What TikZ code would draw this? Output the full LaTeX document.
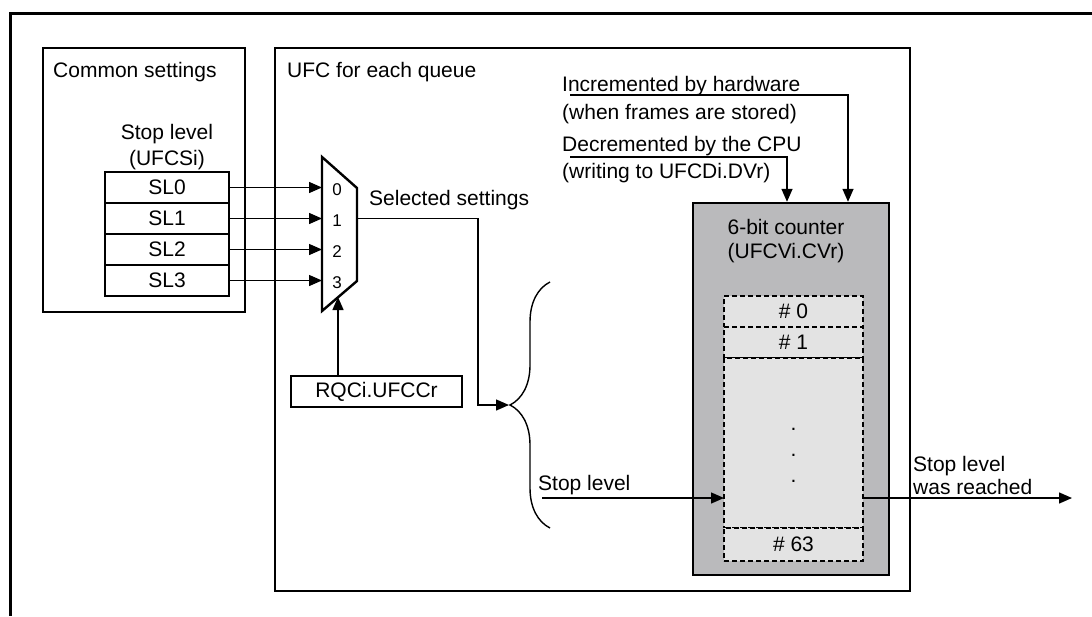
\documentclass[tikz,border=0pt]{standalone}
\usepackage{fontspec}
\setmainfont{Liberation Sans}
\usetikzlibrary{arrows.meta,positioning,decorations.pathreplacing}
\definecolor{ctrgray}{RGB}{186,186,188}
\definecolor{cellgray}{RGB}{227,227,227}
\tikzset{
  box/.style={draw,line width=2.4pt},
  reg/.style={box,minimum width=124pt,minimum height=31pt,inner sep=0pt},
  cell/.style={draw,dash pattern=on 5pt off 3pt,line width=2pt,fill=cellgray,
    minimum width=139pt,inner sep=0pt,outer sep=0pt},
  sig/.style={->,line width=1.4pt},
  lbl/.style={inner sep=0pt}
}
\begin{document}
\begin{tikzpicture}[x=1pt,y=-1pt,>={Triangle[length=13pt,width=11pt]},
  font=\fontsize{21}{26}\selectfont]

\useasboundingbox (0,0) rectangle (1092,616);

% Outer frame
\draw[line width=3pt] (1092,13) -- (10,13) -- (10,616);

%------------------------------------------------
% LEFT: Common settings
%------------------------------------------------
\draw[box] (43,48) rectangle (245,312);
\node[lbl,anchor=west] (common) at (53,72) {Common settings};

\node[lbl,align=center] (slhead) at (167,147) {Stop level\\(UFCSi)};
\foreach \i in {0,...,3}
  \node[reg] (sl\i) at (167,{187.5+31*\i}) {SL\i};

%------------------------------------------------
% RIGHT: UFC for each queue
%------------------------------------------------
\draw[box] (275,48) rectangle (910,591);
\node[lbl,anchor=west] (ufc) at (287,72) {UFC for each queue};

% Selector
\coordinate (mtl) at (322,157);
\coordinate (mtr) at (357,188);
\coordinate (mbr) at (357,281);
\coordinate (mbl) at (322,311);
\draw[box] (mtl) -- (mtr) -- (mbr) -- (mbl) -- cycle;

\foreach \i in {0,...,3}{
  \node[lbl,font=\fontsize{17}{20}\selectfont] (in\i) at (337,{190+31*\i}) {\i};
  \draw[sig] (sl\i.east) -- (sl\i.east -| mtl);
}

\node[lbl,anchor=west] (sel) at (369,200) {Selected settings};

\node[reg,minimum width=171pt] (rqc) at (376.5,391.5) {RQCi.UFCCr};
\coordinate (muxsel) at (338,297);
\draw[sig] (muxsel |- rqc.north) -- (muxsel);

% Brace
\coordinate (brtop) at (550,282);
\coordinate (brbot) at (550,528);
\coordinate (brtip) at (509,405);
\draw[line width=1.4pt,decorate,decoration={brace,amplitude=40pt}] (brbot) -- (brtop);

\coordinate (muxout) at (357,218.5);
\draw[sig] (muxout) -- (478,218.5) |- (brtip);

% Counter
\node[box,fill=ctrgray,minimum width=196pt,minimum height=372pt] (ctr) at (791,389) {};
\node[lbl,align=center,font=\fontsize{21}{24}\selectfont] (ctrname) at (786,241)
  {6-bit counter\\(UFCVi.CVr)};

\node[cell,minimum height=31pt] (c0) at (793.5,311.5) {\# 0};
\node[cell,minimum height=31pt,below=0pt of c0] (c1) {\# 1};
\node[cell,minimum height=170pt,below=0pt of c1] (cmid) {};
\node[cell,minimum height=33pt,below=0pt of cmid] (c63) {\# 63};
\foreach \d in {0,1,2}
  \node[lbl,anchor=base] (dot\d) at (793.5,{430+26*\d}) {.};

% Increment / decrement
\node[lbl,anchor=west,align=left,font=\fontsize{21}{28}\selectfont] (hwtxt) at (562,100)
  {Incremented by hardware\\(when frames are stored)};
\coordinate (hwsrc) at (570,95);
\coordinate (hwbend) at (848,95);
\draw[sig] (hwsrc) -- (hwbend) -- (hwbend |- ctr.north);

\node[lbl,anchor=west,align=left,font=\fontsize{21}{27}\selectfont] (cputxt) at (562,160)
  {Decremented by the CPU\\(writing to UFCDi.DVr)};
\coordinate (cpusrc) at (570,157);
\coordinate (cpubend) at (787,157);
\draw[sig] (cpusrc) -- (cpubend) -- (cpubend |- ctr.north);

% Stop level in / out
\node[lbl,anchor=west] (sltxt) at (538,485) {Stop level};
\coordinate (slsrc) at (542,498);
\draw[sig] (slsrc) -- (slsrc -| cmid.west);

\coordinate (reached) at (1072,498);
\draw[sig] (slsrc -| cmid.east) -- (reached);
\node[lbl,anchor=west,align=left,font=\fontsize{21}{23}\selectfont] (reachtxt) at (913,475)
  {Stop level\\was reached};

\end{tikzpicture}
\end{document}
